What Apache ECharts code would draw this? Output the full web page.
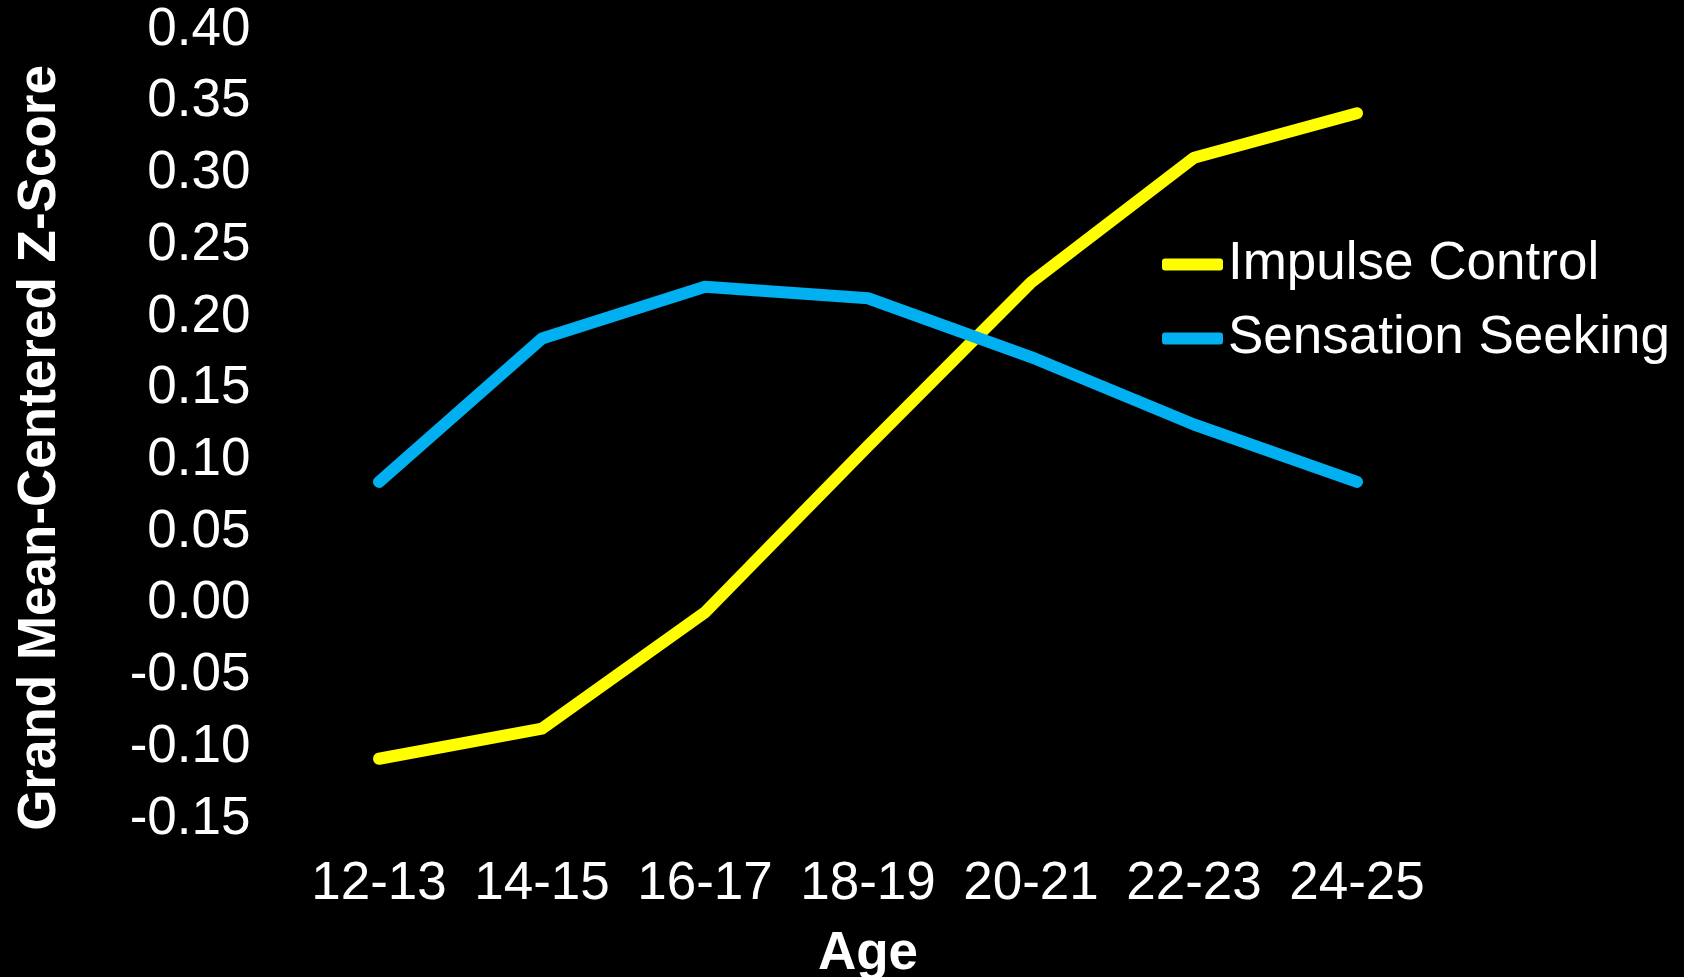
<!DOCTYPE html>
<html>
<head>
<meta charset="utf-8">
<title>Impulse Control and Sensation Seeking by Age</title>
<script src="https://cdn.jsdelivr.net/npm/echarts@6/dist/echarts.min.js"></script>
<style>
  html, body { margin: 0; padding: 0; background: #000; }
  #chart { width: 1684px; height: 977px; }
</style>
</head>
<body>
<div id="chart"></div>
<script>
// Age groups along the x axis
const ageGroups = ['12-13', '14-15', '16-17', '18-19', '20-21', '22-23', '24-25'];

// Grand mean-centered z-scores per age group
const impulseControl = [-0.108, -0.087, -0.006, 0.110, 0.224, 0.311, 0.342];
const sensationSeeking = [0.085, 0.185, 0.221, 0.213, 0.172, 0.125, 0.085];

const seriesNames = ['Impulse Control', 'Sensation Seeking'];
const seriesColors = ['#FFFF00', '#00B0F0'];

const FONT = "'Liberation Sans', Arial, Helvetica, sans-serif";
const FS = 53;

const chart = echarts.init(document.getElementById('chart'), null, { renderer: 'canvas' });

const lineSeries = [impulseControl, sensationSeeking].map((values, i) => ({
  name: seriesNames[i],
  type: 'line',
  data: values,
  symbol: 'none',
  color: seriesColors[i],
  lineStyle: { width: 12, color: seriesColors[i], cap: 'round', join: 'round' },
  emphasis: { disabled: true }
}));

chart.setOption({
  backgroundColor: '#000000',
  animation: false,
  textStyle: { fontFamily: FONT },
  grid: {
    left: 297.5, right: 245.5, top: 30, bottom: 158,
    containLabel: false,
    outerBoundsMode: 'none'
  },
  legend: {
    orient: 'vertical',
    left: 1157,
    top: 233,
    itemWidth: 61,
    itemHeight: 12,
    itemGap: 21,
    icon: 'roundRect',
    data: seriesNames.map((n, i) => ({ name: n, itemStyle: { color: seriesColors[i] } })),
    textStyle: { color: '#FFFFFF', fontSize: FS, fontFamily: FONT, lineHeight: 53 },
    selectedMode: false
  },
  xAxis: {
    type: 'category',
    data: ageGroups,
    boundaryGap: true,
    axisLine: { show: false },
    axisTick: { show: false },
    splitLine: { show: false },
    axisLabel: { color: '#FFFFFF', fontSize: FS, fontFamily: FONT, margin: 39, interval: 0 },
    name: 'Age',
    nameLocation: 'middle',
    nameGap: 109,
    nameTextStyle: { color: '#FFFFFF', fontSize: FS, fontWeight: 'bold', fontFamily: FONT }
  },
  yAxis: {
    type: 'value',
    min: -0.15,
    max: 0.40,
    interval: 0.05,
    axisLine: { show: false },
    axisTick: { show: false },
    splitLine: { show: false },
    axisLabel: {
      color: '#FFFFFF', fontSize: FS, fontFamily: FONT, margin: 47,
      padding: [3, 0, 0, 0],
      formatter: v => v.toFixed(2)
    },
    name: 'Grand Mean-Centered Z-Score',
    nameLocation: 'middle',
    nameGap: 231,
    nameRotate: 90,
    nameTextStyle: {
      color: '#FFFFFF', fontSize: FS, fontWeight: 'bold', fontFamily: FONT,
      padding: [0, 47, 0, 0]
    }
  },
  series: lineSeries
});
</script>
</body>
</html>
